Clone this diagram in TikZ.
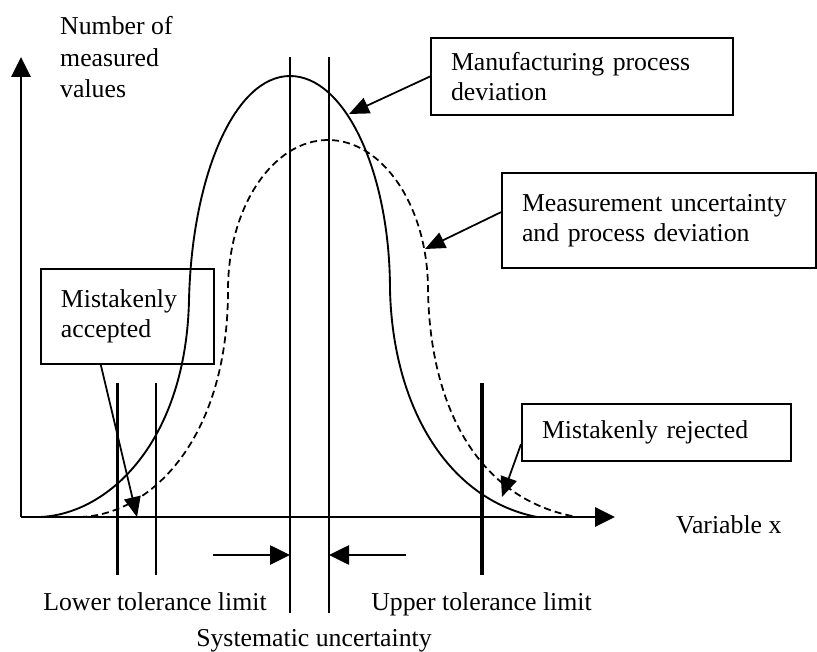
\documentclass[tikz,border=0pt]{standalone}
\usepackage{fontspec}
\setmainfont{Liberation Serif}
\usetikzlibrary{arrows.meta}
\begin{document}
\begin{tikzpicture}[x=0.03cm,y=-0.03cm,>={Triangle[length=0.6cm,width=0.58cm]},font=\fontsize{22}{25.5}\selectfont,
	box/.style={draw,line width=1.7pt,anchor=north west,align=left,inner xsep=0.6cm,inner ysep=0pt},
	callout/.style={line width=1.5pt,-{Triangle[length=0.6cm,width=0.5cm]}}]
			\useasboundingbox (0,0) rectangle (817,652);
			% axes
			\draw[->,line width=1.7pt] (21,517)--(615,517);
			\draw[->,line width=1.7pt] (21,517)--(21,57);
			\node[anchor=north west,align=left,inner sep=0pt,font=\fontsize{22}{27}\selectfont] (ylab) at (60,16) {Number of\\measured\\values};
			\node[anchor=base west,inner sep=0pt] (xlab) at (676,533) {Variable x};
			% distributions
			\draw[line width=1.6pt] (40,517) .. controls (110,514) and (186,440) .. (189,300) .. controls (192,175) and (235,76) .. (290,76) .. controls (345,76) and (390,172) .. (390,290) .. controls (393,410) and (450,500) .. (537,517);
			\draw[line width=1.5pt,dash pattern=on 6pt off 3.5pt] (80,517) .. controls (150,515) and (228,440) .. (228,290) .. controls (228,207) and (273,140) .. (328,140) .. controls (383,140) and (428,207) .. (428,290) .. controls (430,410) and (480,500) .. (577,517);
			% limits
			\foreach \x in {290,329} \draw[line width=1.3pt] (\x,57)--(\x,613);
			\foreach \x in {117.7,482} \draw[line width=2.8pt] (\x,383)--(\x,575);
			\draw[line width=1.4pt] (156,383)--(156,575);
			\draw[->,line width=1.3pt] (213,555)--(290,555);
			\draw[->,line width=1.3pt] (406,555)--(329,555);
			\node[anchor=base] (ltl) at (155,610) {Lower tolerance limit};
			\node[anchor=base] (utl) at (481.5,610) {Upper tolerance limit};
			\node[anchor=base] (sys) at (314,646) {Systematic uncertainty};
			% boxes
			\node[box,text width=7.86cm,minimum height=2.31cm] (mfg) at (430,37) {Manufacturing process\\deviation};
			\node[box,text width=8.22cm,minimum height=2.85cm] (meas) at (501,172) {Measurement uncertainty\\and process deviation};
			\node[box,text width=3.99cm,minimum height=2.85cm] (acc) at (40,268) {Mistakenly\\accepted};
			\node[box,text width=6.87cm,minimum height=1.71cm] (rej) at (521,403) {Mistakenly rejected};
			\coordinate (tmfg) at (349,114);
			\coordinate (tmeas) at (425,249);
			\coordinate (tacc) at (137,517);
			\coordinate (trej) at (502,497);
			\draw[callout] (mfg.west)--(tmfg);
			\draw[callout] ([yshift=0.25cm]meas.west)--(tmeas);
			\draw[callout] ([xshift=-0.8cm]acc.south)--(tacc);
			\draw[callout] ([yshift=-0.35cm]rej.west)--(trej);
	\end{tikzpicture}
\end{document}
